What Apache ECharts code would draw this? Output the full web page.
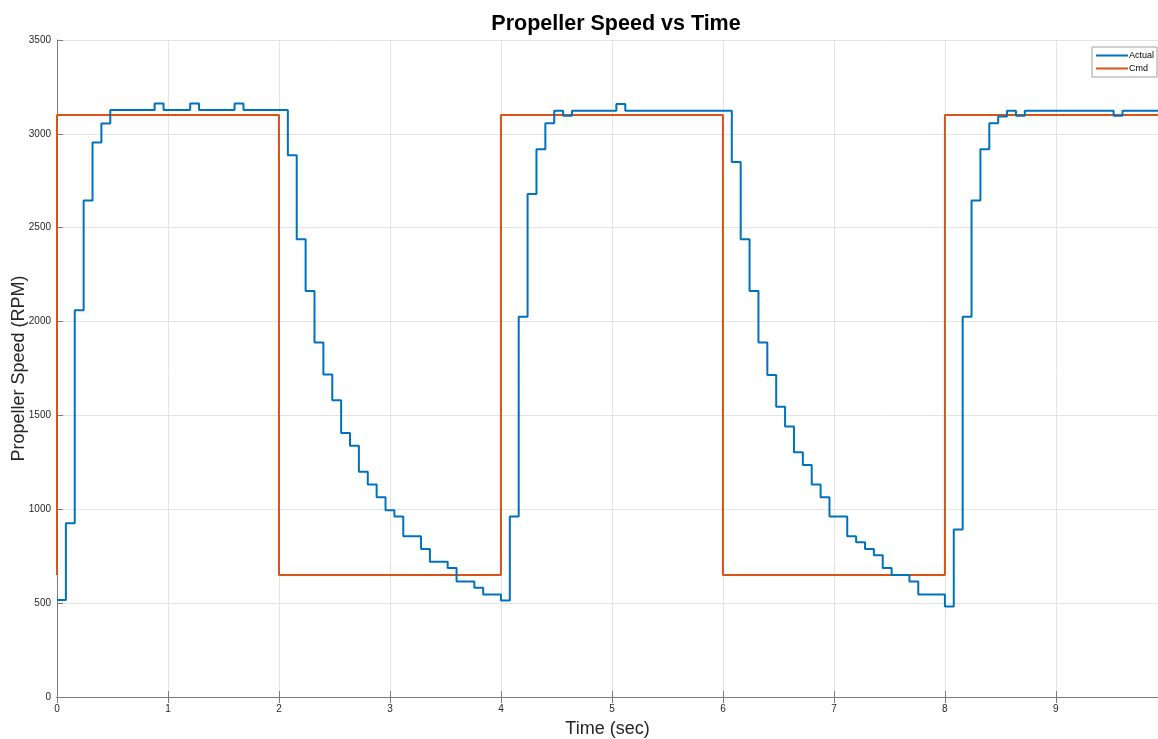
<!DOCTYPE html>
<html>
<head>
<meta charset="utf-8">
<script src="https://cdn.jsdelivr.net/npm/echarts@6/dist/echarts.min.js"></script>
<style>
html,body{margin:0;padding:0;background:#fff;}
#chart{width:1158px;height:739px;}
</style>
</head>
<body>
<div id="chart"></div>
<script>
// Actual speed: step start times (sec) and held values (RPM)
const actualTime = [0.00,0.08,0.16,0.24,0.32,0.40,0.48,0.88,0.96,1.20,1.28,1.60,1.68,
  2.08,2.16,2.24,2.32,2.40,2.48,2.56,2.64,2.72,2.80,2.88,2.96,3.04,3.12,3.28,3.36,3.52,3.60,3.76,3.84,
  4.00,4.08,4.16,4.24,4.32,4.40,4.48,4.56,4.64,5.04,5.12,
  6.08,6.16,6.24,6.32,6.40,6.48,6.56,6.64,6.72,6.80,6.88,6.96,7.12,7.20,7.28,7.36,7.44,7.52,7.68,7.76,
  8.00,8.08,8.16,8.24,8.32,8.40,8.48,8.56,8.64,8.72,9.52,9.60,9.92];
const actualRpm = [517,925,2060,2645,2954,3055,3127,3162,3127,3162,3127,3162,3127,
  2886,2438,2163,1888,1718,1581,1407,1339,1200,1132,1064,995,962,857,789,720,687,615,582,546,
  514,962,2026,2679,2918,3057,3123,3097,3123,3159,3123,
  2850,2438,2163,1888,1716,1546,1441,1304,1236,1132,1064,962,857,824,789,755,687,650,615,546,
  482,892,2026,2645,2918,3057,3093,3123,3097,3123,3097,3123,3123];
// Command: corner points
const cmdTime = [0,0,2,2,4,4,6,6,8,8,9.92];
const cmdRpm  = [650,3100,3100,650,650,3100,3100,650,650,3100,3100];
const xTicks = [0,1,2,3,4,5,6,7,8,9];
const yTicks = [0,500,1000,1500,2000,2500,3000,3500];

const actualData = actualTime.map((t,i)=>[t,actualRpm[i]]);
const cmdData = cmdTime.map((t,i)=>[t,cmdRpm[i]]);

const FONT = '"Liberation Sans", Arial, sans-serif';
const chart = echarts.init(document.getElementById('chart'), null, {renderer:'canvas'});
const axisColor = '#7a7a7a';
chart.setOption({
  animation:false,
  backgroundColor:'#ffffff',
  title:{
    text:'Propeller Speed vs Time',
    left:611, top:8, textAlign:'center',
    textStyle:{fontFamily:FONT,fontSize:21.5,fontWeight:'bold',color:'#000'}
  },
  legend:{
    right:1, top:47, orient:'vertical',
    backgroundColor:'#fff', borderColor:'#a0a0a0', borderWidth:1,
    padding:[4,3,4,4], itemGap:4, itemWidth:32, itemHeight:2,
    icon:'rect',
    textStyle:{fontFamily:FONT,fontSize:9,color:'#000',padding:[0,0,0,-4]},
    data:['Actual','Cmd']
  },
  grid:{left:57, right:0, top:40, bottom:42, outerBoundsMode:'none', containLabel:false},
  xAxis:[{
    type:'value', min:0, max:9.92, interval:1,
    name:'Time (sec)', nameLocation:'middle', nameGap:23, nameMoveOverlap:false,
    nameTextStyle:{fontFamily:FONT,fontSize:18,color:'#262626'},
    axisLine:{show:true,onZero:false,lineStyle:{color:'#444',width:1}},
    axisTick:{show:true,inside:true,length:6,lineStyle:{color:axisColor}},
    axisLabel:{fontFamily:FONT,fontSize:10,color:'#262626',margin:7,showMaxLabel:false,
      formatter:v=>xTicks.includes(v)?String(v):''},
    splitLine:{show:true,lineStyle:{color:'#e3e3e3',width:1}}
  },{
    type:'value', position:'top', min:0, max:9.92, interval:1,
    axisLine:{show:true,lineStyle:{color:axisColor,width:1}},
    axisTick:{show:true,inside:true,length:6,lineStyle:{color:axisColor}},
    axisLabel:{show:false}, splitLine:{show:false}
  }],
  yAxis:[{
    type:'value', min:0, max:3500, interval:500,
    name:'Propeller Speed (RPM)', nameLocation:'middle', nameGap:29, nameMoveOverlap:false,
    nameTextStyle:{fontFamily:FONT,fontSize:18,color:'#262626'},
    axisLine:{show:true,onZero:false,lineStyle:{color:axisColor,width:1}},
    axisTick:{show:true,inside:true,length:6,lineStyle:{color:axisColor}},
    axisLabel:{fontFamily:FONT,fontSize:10,color:'#262626',margin:6,
      formatter:v=>yTicks.includes(v)?String(v):''},
    splitLine:{show:true,lineStyle:{color:'#e3e3e3',width:1}}
  }],
  series:[{
    name:'Actual', type:'line', step:'end', data:actualData,
    symbol:'none', lineStyle:{color:'#0072BD',width:2}, itemStyle:{color:'#0072BD'}, z:3
  },{
    name:'Cmd', type:'line', data:cmdData,
    symbol:'none', lineStyle:{color:'#D95319',width:2}, itemStyle:{color:'#D95319'}, z:2
  }]
});
</script>
</body>
</html>
